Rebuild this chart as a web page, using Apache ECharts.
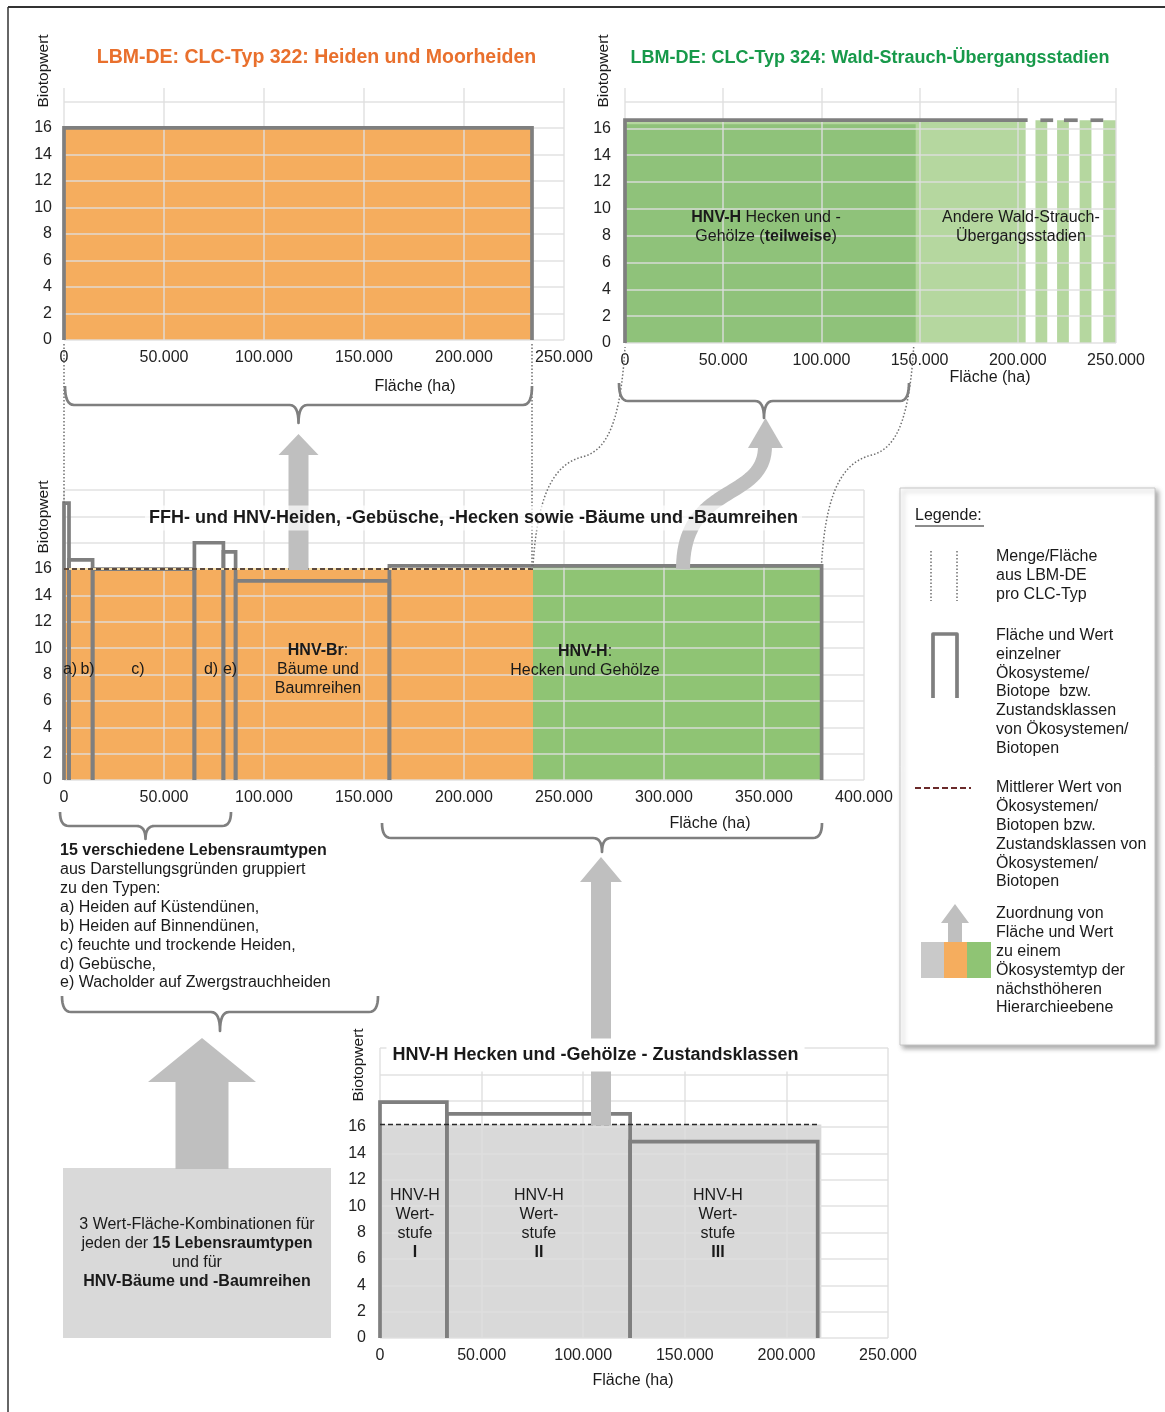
<!DOCTYPE html>
<html lang="de">
<head>
<meta charset="utf-8">
<title>Biotopwert und Fläche</title>
<script src="https://cdn.jsdelivr.net/npm/echarts@6/dist/echarts.min.js"></script>
<style>
html, body { margin: 0; padding: 0; background: #fff; }
#chart { width: 1165px; height: 1412px; }
</style>
</head>
<body>
<div id="chart"></div>
<script>
// Biotopwert-Achse
const wertTicks = [0, 2, 4, 6, 8, 10, 12, 14, 16];

// oben links: LBM-DE CLC-Typ 322
const heideFlaeche = [0, 234000];
const heideWert = 16;

// oben rechts: LBM-DE CLC-Typ 324
const waldHnvFlaeche = [0, 148000];
const waldHnvWert = 16.3;
const waldAndereFlaeche = [[0, 204000], [209000, 215000], [220000, 226000], [231500, 237500], [243500, 250000]];
const waldAndereWert = 16.6;
const waldLinie = [[0, 205000], [211500, 218000], [223500, 230500], [237000, 243500]];

// Mitte: FFH- und HNV-Typen
const typen = ['a)', 'b)', 'c)', 'd)', 'e)', 'HNV-Br', 'HNV-H'];
const typGrenzen = [0, 2500, 14300, 65200, 79700, 85800, 162700, 378800];
const typWerte = [21, 16.7, 16, 18, 17.3, 15.1, 16.25];
const orangeFlaeche = [0, 234500];
const gruenFlaeche = [234500, 378800];
const mittelWert = 16;
const gruenWert = 16.2;

// unten: HNV-H Zustandsklassen
const stufen = ['I', 'II', 'III'];
const stufeGrenzen = [0, 32900, 123100, 215400];
const stufeWerte = [17.9, 17, 14.9];
const grauFlaeche = [0, 217200];
const stufenMittel = 16.2;

// Beschriftungen in den Diagrammen
const waldTexte = ['{b|HNV-H} Hecken und -\nGehölze ({b|teilweise})', 'Andere Wald-Strauch-\nÜbergangsstadien'];
const waldTextAnker = [[71800, 8.65], [201600, 8.65]];
const mitteTexte = ['a)', 'b)', 'c)', 'd)', 'e)', '{b|HNV-Br}:\nBäume und\nBaumreihen', '{b|HNV-H}:\nHecken und Gehölze'];
const mitteTextAnker = [[3000, 8.35], [11750, 8.35], [37000, 8.35], [73500, 8.35], [83000, 8.35], [127000, 8.35], [260500, 9.05]];
const stufeTexte = stufen.map(s => 'HNV-H\nWert-\nstufe\n{b|' + s + '}');
const stufeTextAnker = [[17200, 8.65], [78200, 8.65], [166300, 8.65]];

const FONT = '"Liberation Sans", Arial, Helvetica, sans-serif';
const GROESSE = 16;
const GRAU = '#7f7f7f';
const ORANGE = '#f5ad5e';
const GRUEN = '#8fc474';
const GRUEN_DUNKEL = '#8fc27a';
const HELLGRUEN = '#b5d79f';
const FLAECHE_GRAU = '#d9d9d9';
const PFEIL = '#bfbfbf';
const GITTER = 'rgba(222,222,222,0.9)';

const tausender = v => String(v).replace(/\B(?=(\d{3})+(?!\d))/g, '.');

function xAchse(grid, max) {
  return {
    gridIndex: grid, type: 'value', min: 0, max: max, interval: 50000, z: 3,
    axisLine: { show: false }, axisTick: { show: false },
    splitLine: { show: true, lineStyle: { color: GITTER, width: 1.5 } },
    axisLabel: { formatter: tausender, fontSize: GROESSE, fontFamily: FONT, color: '#222', margin: 10, showMinLabel: true, showMaxLabel: true, hideOverlap: false }
  };
}

function yAchse(grid, max, margin) {
  return {
    gridIndex: grid, type: 'value', min: 0, max: max, interval: 2, z: 3,
    axisLine: { show: false }, axisTick: { show: false },
    splitLine: { show: true, showMaxLine: max % 2 === 0, lineStyle: { color: GITTER, width: 1.5 } },
    axisLabel: { formatter: v => wertTicks.includes(v) ? String(v) : '', fontSize: GROESSE, fontFamily: FONT, color: '#222', margin: margin }
  };
}

function rechteck(params, api) {
  const a = api.coord([api.value(0), api.value(2)]);
  const b = api.coord([api.value(1), 0]);
  return { type: 'rect', shape: { x: a[0], y: a[1], width: b[0] - a[0], height: b[1] - a[1] }, style: { fill: api.visual('color') } };
}

function umriss(params, api) {
  const x0 = api.value(0), x1 = api.value(1), v = api.value(2);
  return {
    type: 'polyline',
    shape: { points: [api.coord([x0, 0]), api.coord([x0, v]), api.coord([x1, v]), api.coord([x1, 0])] },
    style: { stroke: GRAU, lineWidth: 3.7, fill: 'none', lineJoin: 'miter' }
  };
}

function flaechen(grid, data, color) {
  return { type: 'custom', xAxisIndex: grid, yAxisIndex: grid, z: 1, silent: true, clip: false,
    encode: { x: [0, 1], y: 2 }, itemStyle: { color: color }, data: data, renderItem: rechteck };
}

function umrisse(grid, grenzen, werte) {
  return { type: 'custom', xAxisIndex: grid, yAxisIndex: grid, z: 4, silent: true, clip: false,
    encode: { x: [0, 1], y: 2 }, data: werte.map((v, i) => [grenzen[i], grenzen[i + 1], v]), renderItem: umriss };
}

function texte(grid, anker, inhalt) {
  return { type: 'custom', xAxisIndex: grid, yAxisIndex: grid, z: 6, silent: true, clip: false, data: anker,
    renderItem: (params, api) => {
      const p = api.coord([api.value(0), api.value(1)]);
      return { type: 'text', x: p[0], y: p[1], style: {
        text: inhalt[params.dataIndex], fill: '#1a1a1a', fontSize: GROESSE, fontFamily: FONT, lineHeight: 19,
        align: 'center', verticalAlign: 'middle', textAlign: 'center', textVerticalAlign: 'middle',
        rich: { b: { fontSize: GROESSE, fontFamily: FONT, fontWeight: 'bold', lineHeight: 19 } } } };
    } };
}

function mittelLinie(grid, von, bis, wert, farbe) {
  return { type: 'line', xAxisIndex: grid, yAxisIndex: grid, z: 5, silent: true, symbol: 'none',
    data: [[von, wert], [bis, wert]], lineStyle: { color: farbe, width: 1.5, type: [5, 3] } };
}

const chart = echarts.init(document.getElementById('chart'), null, { renderer: 'canvas' });

chart.setOption({
  animation: false,
  backgroundColor: '#fff',
  grid: [
    { left: 64, top: 88, width: 500, height: 252, outerBoundsMode: 'none' },
    { left: 625, top: 88, width: 491, height: 255, outerBoundsMode: 'none' },
    { left: 64, top: 490, width: 800, height: 290, outerBoundsMode: 'none' },
    { left: 380, top: 1048, width: 508, height: 290, outerBoundsMode: 'none' }
  ],
  xAxis: [xAchse(0, 250000), xAchse(1, 250000), xAchse(2, 400000), xAchse(3, 250000)],
  yAxis: [yAchse(0, 19, 12), yAchse(1, 19, 14), yAchse(2, 22, 12), yAchse(3, 22, 14)],
  series: [
    flaechen(0, [[heideFlaeche[0], heideFlaeche[1], heideWert]], ORANGE),
    umrisse(0, heideFlaeche, [heideWert]),

    flaechen(1, waldAndereFlaeche.map(f => [f[0], f[1], waldAndereWert]), HELLGRUEN),
    flaechen(1, [[waldHnvFlaeche[0], waldHnvFlaeche[1], waldHnvWert]], GRUEN_DUNKEL),
    { type: 'custom', xAxisIndex: 1, yAxisIndex: 1, z: 4, silent: true, clip: false, encode: { x: [0, 1] }, data: waldLinie,
      renderItem: (params, api) => {
        const x0 = api.value(0), x1 = api.value(1);
        const pts = [api.coord([x0, waldAndereWert]), api.coord([x1, waldAndereWert])];
        if (params.dataIndex === 0) pts.unshift(api.coord([x0, 0]));
        return { type: 'polyline', shape: { points: pts }, style: { stroke: GRAU, lineWidth: 3.7, fill: 'none' } };
      } },
    texte(1, waldTextAnker, waldTexte),

    flaechen(2, [[orangeFlaeche[0], orangeFlaeche[1], mittelWert]], ORANGE),
    flaechen(2, [[gruenFlaeche[0], gruenFlaeche[1], gruenWert]], GRUEN),
    umrisse(2, typGrenzen, typWerte),
    { type: 'line', xAxisIndex: 2, yAxisIndex: 2, z: 5, silent: true, symbol: 'none',
      data: [[orangeFlaeche[0], mittelWert], [orangeFlaeche[1], mittelWert]], lineStyle: { color: '#f8dfa8', width: 2 } },
    mittelLinie(2, orangeFlaeche[0], orangeFlaeche[1], mittelWert, '#2a1a1a'),
    texte(2, mitteTextAnker, mitteTexte),

    flaechen(3, [[grauFlaeche[0], grauFlaeche[1], stufenMittel]], FLAECHE_GRAU),
    umrisse(3, stufeGrenzen, stufeWerte),
    mittelLinie(3, stufeGrenzen[0], stufeGrenzen[3], stufenMittel, '#2a2a2a'),
    texte(3, stufeTextAnker, stufeTexte)
  ]
});

// Zeichenelemente (Klammern, Pfeile, Legende, Texte)
const px = (g, p) => chart.convertToPixel({ gridIndex: g }, p);

function text(x, y, t, o) {
  o = o || {};
  const size = o.size || GROESSE;
  return { type: 'text', x: x, y: y, z: o.z || 20, rotation: o.rot || 0, silent: true, style: {
    text: t, fill: o.color || '#1a1a1a', fontSize: size, fontFamily: FONT, fontWeight: o.bold ? 'bold' : 'normal',
    textAlign: o.align || 'left', textVerticalAlign: o.va || 'middle', lineHeight: o.lh || 19,
    backgroundColor: o.bg, padding: o.pad,
    rich: { b: { fontSize: size, fontFamily: FONT, fontWeight: 'bold', lineHeight: o.lh || 19 } } } };
}

function linie(points, stroke, width, dash, z) {
  return { type: 'polyline', z: z || 10, silent: true, shape: { points: points },
    style: { fill: 'none', stroke: stroke, lineWidth: width, lineDash: dash || null, lineCap: 'butt', lineJoin: 'round' } };
}

function quad(p0, p1, p2, n) {
  const out = [];
  for (let i = 1; i <= n; i++) {
    const t = i / n, u = 1 - t;
    out.push([u * u * p0[0] + 2 * u * t * p1[0] + t * t * p2[0], u * u * p0[1] + 2 * u * t * p1[1] + t * t * p2[1]]);
  }
  return out;
}

function kubisch(p0, p1, p2, p3, n) {
  const out = [];
  for (let i = 1; i <= n; i++) {
    const t = i / n, u = 1 - t;
    const a = u * u * u, b = 3 * u * u * t, c = 3 * u * t * t, d = t * t * t;
    out.push([a * p0[0] + b * p1[0] + c * p2[0] + d * p3[0], a * p0[1] + b * p1[1] + c * p2[1] + d * p3[1]]);
  }
  return out;
}

const PUNKT = [1.5, 2];
const PUNKT_FARBE = '#6f6f6f';

function punktLinie(a, b) {
  return linie([a, b], PUNKT_FARBE, 1.5, PUNKT, 9);
}

function punktKurve(s, e) {
  const dx = e[0] - s[0], dy = e[1] - s[1];
  const p = (fx, fy) => [s[0] + fx * dx, s[1] + fy * dy];
  const pts = [s].concat(kubisch(s, p(0.05, 0.35), p(0.25, 0.47), p(0.55, 0.5), 30),
    kubisch(p(0.55, 0.5), p(0.8, 0.53), p(0.95, 0.65), e, 30));
  return linie(pts, PUNKT_FARBE, 1.5, PUNKT, 9);
}

function klammer(x0, x1, yTop, yH, yTip) {
  const xc = (x0 + x1) / 2, r = 9;
  const pts = [[x0, yTop]].concat(
    quad([x0, yTop], [x0, yH], [x0 + r, yH], 8),
    [[xc - r, yH]],
    quad([xc - r, yH], [xc, yH], [xc, yTip], 8),
    quad([xc, yTip], [xc, yH], [xc + r, yH], 8),
    [[x1 - r, yH]],
    quad([x1 - r, yH], [x1, yH], [x1, yTop], 8));
  return linie(pts, GRAU, 2.7, null, 10);
}

function pfeil(xc, yTip, yBase, kopf, schaft, yEnd, farbe, z) {
  return { type: 'polygon', z: z || 12, silent: true, shape: { points: [
    [xc, yTip], [xc + kopf, yBase], [xc + schaft, yBase], [xc + schaft, yEnd],
    [xc - schaft, yEnd], [xc - schaft, yBase], [xc - kopf, yBase]] },
    style: { fill: farbe || PFEIL } };
}

function kasten(x, y, w, h, farbe, z) {
  return { type: 'rect', z: z || 11, silent: true, shape: { x: x, y: y, width: w, height: h }, style: { fill: farbe } };
}

const a0 = px(0, [heideFlaeche[0], 0]);
const a1 = px(0, [heideFlaeche[1], 0]);
const m0 = px(2, [typGrenzen[0], typWerte[0]]);
const mOrange = px(2, [orangeFlaeche[1], mittelWert]);
const mGruen = px(2, [gruenFlaeche[1], typWerte[6]]);
const w0 = px(1, [0, 0]);
const w1 = px(1, [waldHnvFlaeche[1], 0]);
const mPfeil = px(2, [110000, mittelWert]);
const uPfeil = px(3, [110000, stufenMittel]);

const legendeX = 996;
const legende1 = ['Menge/Fläche', 'aus LBM-DE', 'pro CLC-Typ'];
const legende2 = ['Fläche und Wert', 'einzelner', 'Ökosysteme/', 'Biotope  bzw.', 'Zustandsklassen', 'von Ökosystemen/', 'Biotopen'];
const legende3 = ['Mittlerer Wert von', 'Ökosystemen/', 'Biotopen bzw.', 'Zustandsklassen von', 'Ökosystemen/', 'Biotopen'];
const legende4 = ['Zuordnung von', 'Fläche und Wert', 'zu einem', 'Ökosystemtyp der', 'nächsthöheren', 'Hierarchieebene'];
const typListe = ['{b|15 verschiedene Lebensraumtypen}', 'aus Darstellungsgründen gruppiert', 'zu den Typen:',
  'a) Heiden auf Küstendünen,', 'b) Heiden auf Binnendünen,', 'c) feuchte und trockende Heiden,', 'd) Gebüsche,',
  'e) Wacholder auf Zwergstrauchheiden'];
const boxText = ['3 Wert-Fläche-Kombinationen für', 'jeden der {b|15 Lebensraumtypen}', 'und für', '{b|HNV-Bäume und -Baumreihen}'];

const kurvenPfeil = [[683, 569]].concat(kubisch([683, 569], [683, 482], [765, 502], [765, 446], 40));

const elemente = [
  // Rahmen
  linie([[8, 7], [1165, 7]], '#333', 2, null, 30),
  linie([[8, 7], [8, 1412]], '#333', 1.5, null, 30),

  // Titel
  text(316.5, 58, 'LBM-DE: CLC-Typ 322: Heiden und Moorheiden', { bold: true, size: 19.5, color: '#e9702d', align: 'center' }),
  text(870, 58, 'LBM-DE: CLC-Typ 324: Wald-Strauch-Übergangsstadien', { bold: true, size: 18, color: '#17994a', align: 'center' }),
  text(473.5, 518, 'FFH- und HNV-Heiden, -Gebüsche, -Hecken sowie -Bäume und -Baumreihen', { bold: true, size: 18, align: 'center', bg: 'rgba(255,255,255,0.7)', pad: [3, 4], z: 21 }),
  text(595.5, 1055, 'HNV-H Hecken und -Gehölze - Zustandsklassen', { bold: true, size: 18, align: 'center', bg: '#fff', pad: [7, 6], z: 21 }),

  // Achsentitel
  text(44, 71, 'Biotopwert', { rot: Math.PI / 2, align: 'center', size: 15.5 }),
  text(604, 71, 'Biotopwert', { rot: Math.PI / 2, align: 'center', size: 15.5 }),
  text(44, 517, 'Biotopwert', { rot: Math.PI / 2, align: 'center', size: 15.5 }),
  text(359, 1065, 'Biotopwert', { rot: Math.PI / 2, align: 'center', size: 15.5 }),
  text(415, 387, 'Fläche (ha)', { align: 'center' }),
  text(990, 378, 'Fläche (ha)', { align: 'center' }),
  text(710, 824, 'Fläche (ha)', { align: 'center' }),
  text(633, 1381, 'Fläche (ha)', { align: 'center' }),

  // gepunktete Verbindungen
  punktLinie([a0[0], a0[1] + 4], [m0[0], m0[1]]),
  punktLinie([a1[0], a1[1] + 4], [mOrange[0] - 1, mOrange[1]]),
  punktKurve([mOrange[0], mOrange[1] - 3], [w0[0], w0[1] + 4]),
  punktKurve([mGruen[0], mGruen[1] - 3], [w1[0] - 2, w1[1] + 4]),

  // Klammern
  klammer(a0[0] + 1, a1[0], 386, 405, 423),
  klammer(619, 909, 383, 401, 418),
  klammer(60, 231, 812, 826, 839),
  klammer(382, 822, 823, 838, 852),
  klammer(62, 378, 996, 1012, 1031),

  // Pfeile
  pfeil(298.5, 434, 455, 20, 10, mPfeil[1] + 1),
  linie(kurvenPfeil, PFEIL, 14, null, 12),
  { type: 'polygon', z: 12, silent: true, shape: { points: [[765.5, 418], [783, 448], [748, 448]] }, style: { fill: PFEIL } },
  pfeil(601, 857, 882, 21, 10, uPfeil[1] + 1),
  pfeil(202, 1038, 1082, 54, 26.5, 1169),
  kasten(63, 1168, 268, 170, FLAECHE_GRAU, 11),
  text(197, 1253, boxText.join('\n'), { align: 'center', lh: 18.8 }),

  // Typenliste
  text(60, 851 - 9.4, typListe.join('\n'), { va: 'top', lh: 18.85 }),

  // Legende
  { type: 'rect', z: 14, silent: true, shape: { x: 900, y: 488, width: 255, height: 557 },
    style: { fill: '#fff', stroke: '#c6c6c6', lineWidth: 1, shadowBlur: 5, shadowColor: 'rgba(0,0,0,0.35)', shadowOffsetX: 3, shadowOffsetY: 3 } },
  text(915, 516, 'Legende:', { z: 16 }),
  linie([[915, 526], [984, 526]], '#1a1a1a', 1, null, 16),
  linie([[931, 551], [931, 601]], PUNKT_FARBE, 1.5, PUNKT, 16),
  linie([[957, 551], [957, 601]], PUNKT_FARBE, 1.5, PUNKT, 16),
  linie([[933, 698], [933, 634], [957, 634], [957, 698]], GRAU, 3.7, null, 16),
  linie([[915, 788], [971, 788]], '#6a2a2a', 2, [6, 3], 16),
  pfeil(955, 904, 923, 14, 7, 943, PFEIL, 16),
  kasten(921, 942, 23, 36, '#c9c9c9', 16),
  kasten(944, 942, 23, 36, ORANGE, 16),
  kasten(967, 942, 24, 36, GRUEN, 16),
  text(legendeX, 557 - 9.4, legende1.join('\n'), { va: 'top', lh: 18.7, z: 16 }),
  text(legendeX, 636 - 9.4, legende2.join('\n'), { va: 'top', lh: 18.7, z: 16 }),
  text(legendeX, 788 - 9.4, legende3.join('\n'), { va: 'top', lh: 18.8, z: 16 }),
  text(legendeX, 914 - 9.4, legende4.join('\n'), { va: 'top', lh: 18.8, z: 16 })
];

chart.setOption({ graphic: { elements: elemente } });
</script>
</body>
</html>
